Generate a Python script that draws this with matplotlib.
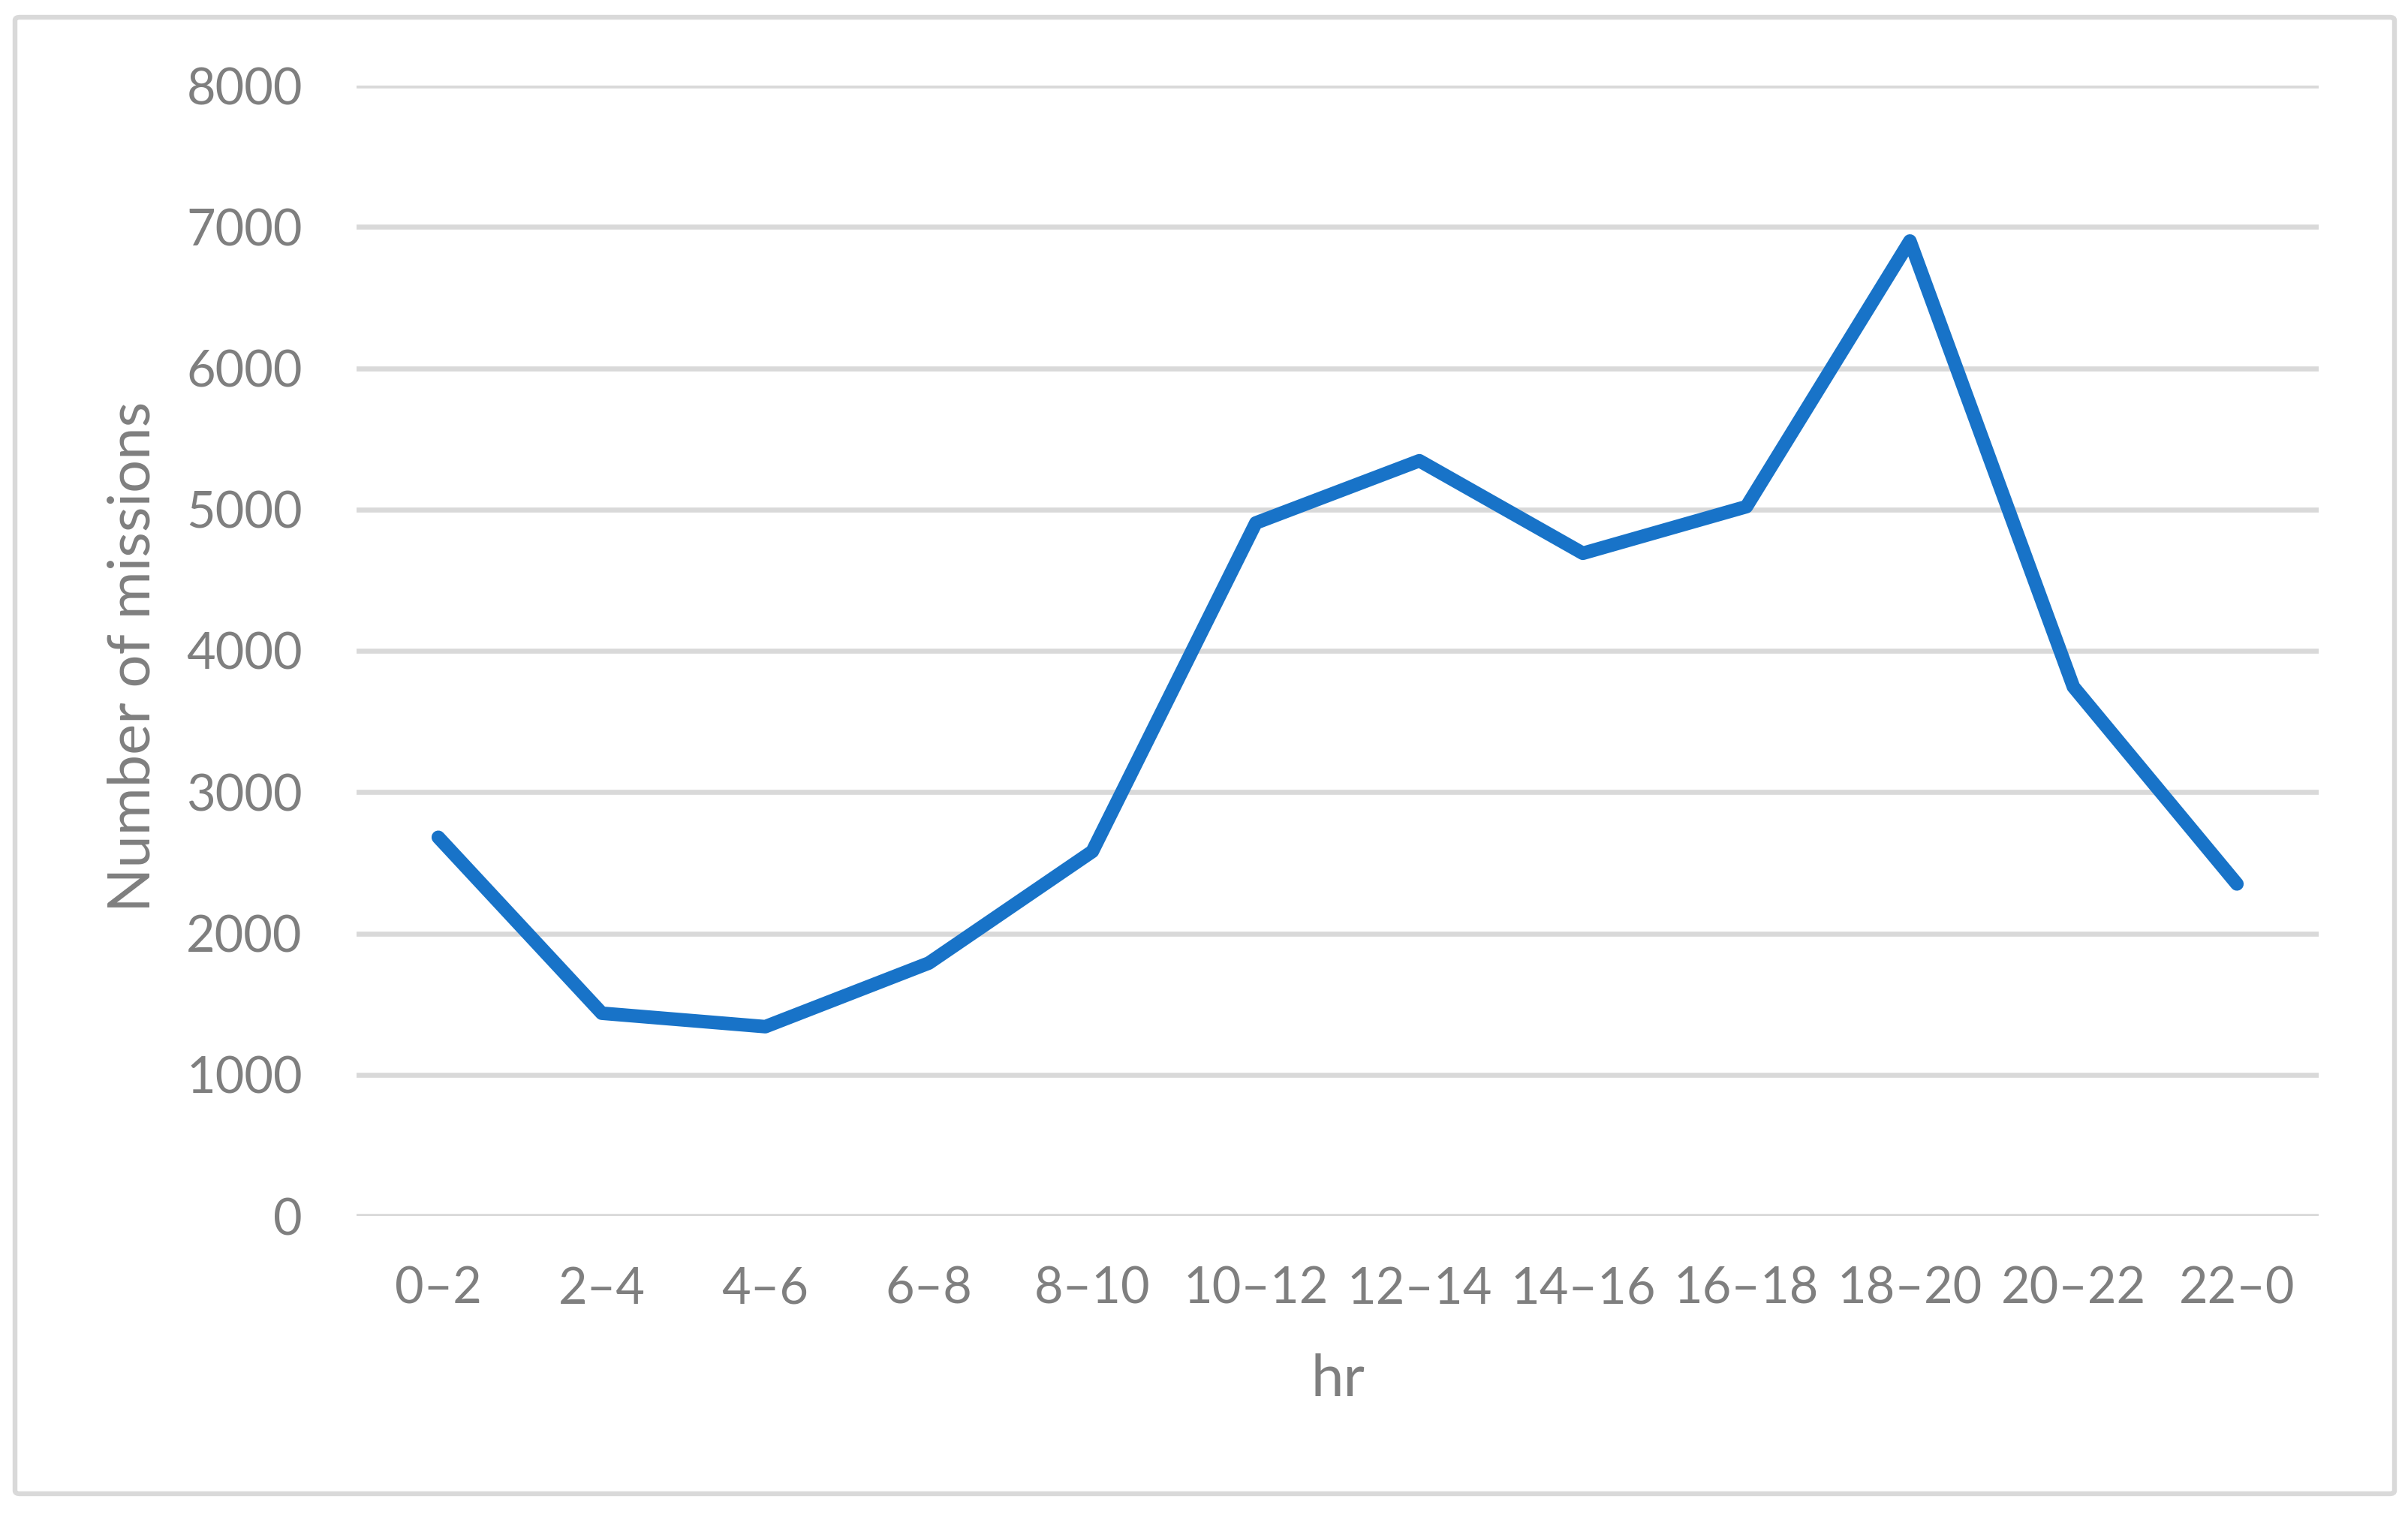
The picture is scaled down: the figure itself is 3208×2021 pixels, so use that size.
import matplotlib
matplotlib.use("Agg")
import matplotlib.pyplot as plt
from matplotlib.patches import FancyBboxPatch

categories = ["0–2", "2–4", "4–6", "6–8", "8–10", "10–12", "12–14",
              "14–16", "16–18", "18–20", "20–22", "22–0"]
missions = [2680, 1435, 1340, 1790, 2580, 4905, 5345, 4690, 5020, 6900, 3745, 2350]
y_ticks = [0, 1000, 2000, 3000, 4000, 5000, 6000, 7000, 8000]

W, H, DPI = 3208, 2021, 200
plt.rcParams['font.family'] = ['Lato', 'DejaVu Sans']
grey = '#7F7F7F'

fig = plt.figure(figsize=(W / DPI, H / DPI), dpi=DPI)
fig.patch.set_facecolor('white')

# outer chart border
border = FancyBboxPatch((20 / W, 1 - 1990 / H), (3190 - 20) / W, (1990 - 23) / H,
                        boxstyle="round,pad=0,rounding_size=0.002",
                        transform=fig.transFigure, facecolor='none',
                        edgecolor='#D9D9D9', linewidth=2.3)
fig.patches.append(border)

left, right = 475 / W, 3089 / W
bottom, top = 1 - 1620 / H, 1 - 114 / H
ax = fig.add_axes([left, bottom, right - left, top - bottom])

x = list(range(len(categories)))
ax.plot(x, missions, color='#1873C8', linewidth=6.5,
        solid_joinstyle='round', solid_capstyle='round', zorder=3)

ax.set_xlim(-0.5, len(categories) - 0.5)
ax.set_ylim(0, 8000)
ax.set_yticks(y_ticks)
ax.set_yticklabels([str(v) for v in y_ticks])
ax.set_xticks(x)
ax.set_xticklabels(categories)

ax.grid(axis='y', color='#D9D9D9', linewidth=2.4, zorder=0)
ax.set_axisbelow(True)
for s in ax.spines.values():
    s.set_visible(False)
ax.tick_params(axis='both', length=0, labelsize=24, labelcolor=grey)
ax.tick_params(axis='y', pad=26)
ax.tick_params(axis='x', pad=24)

fig.text(178 / W, 1 - 875 / H, "Number of missions", rotation=90,
         ha='center', va='center', fontsize=28, color=grey)
fig.text((left + right) / 2, 1 - 1838 / H, "hr",
         ha='center', va='center', fontsize=28, color=grey)

fig.savefig("out.png", dpi=DPI, facecolor='white')
